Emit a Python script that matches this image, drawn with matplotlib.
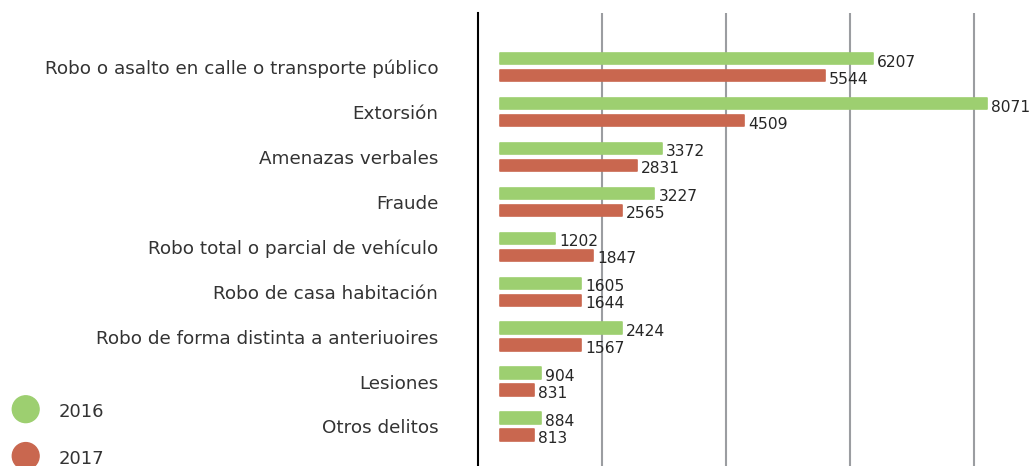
import matplotlib
matplotlib.use('Agg')
import matplotlib.pyplot as plt
from matplotlib.patches import Circle
import numpy as np

categorias = ['Robo o asalto en calle o transporte público', 'Extorsión',
              'Amenazas verbales', 'Fraude', 'Robo total o parcial de vehículo',
              'Robo de casa habitación', 'Robo de forma distinta a anteriuoires',
              'Lesiones', 'Otros delitos']
valores_2016 = [6207, 8071, 3372, 3227, 1202, 1605, 2424, 904, 884]
valores_2017 = [5544, 4509, 2831, 2565, 1847, 1644, 1567, 831, 813]
# largo con que esta dibujada cada barra en el original (no es proporcional a la etiqueta)
largo_2016 = [6183, 8071, 2688, 2559, 916, 1342, 2021, 674, 674]
largo_2017 = [5383, 4041, 2277, 2021, 1545, 1342, 1342, 568, 568]
anios = ['2016', '2017']
colores = ['#9dcf70', '#c9674f']

plt.rcParams['font.family'] = ['DejaVu Sans']
TAM_CAT = 13.2
TAM_VAL = 11.2

fig = plt.figure(figsize=(10.31, 4.66), dpi=100)
ax = fig.add_axes([478.3 / 1031, 0, 1 - 478.3 / 1031, (466 - 12.7) / 466])

y = np.arange(len(categorias))
sep = 8.5 / 44.9
alto = 0.25

for largos, valores, color, d in [(largo_2016, valores_2016, colores[0], -sep),
                                  (largo_2017, valores_2017, colores[1], sep)]:
    barras = ax.barh(y + d, largos, height=alto, color=color, edgecolor=color,
                     linewidth=1.2, joinstyle='round', zorder=3)
    for b, v in zip(barras, valores):
        ax.annotate(str(v), (b.get_width(), b.get_y() + b.get_height() / 2),
                    xytext=(2.8, -2.5), textcoords='offset points', va='center',
                    ha='left', fontsize=TAM_VAL, color='#262626')

# ejes
ax.set_xlim(-359.4, 8795)
ax.set_ylim(8.882, -1.214)
ax.set_yticks(y)
ax.set_yticklabels(categorias)
rejilla = 1694 + 2052 * np.arange(4)
ax.set_xticks(rejilla)
ax.tick_params(axis='y', length=0, pad=28.8, labelsize=TAM_CAT, labelcolor='#333333')
ax.tick_params(axis='x', length=0, labelbottom=False)
ax.grid(axis='x', color='#9b9da1', linewidth=1.5)
ax.set_axisbelow(True)
for lado in ['top', 'right', 'bottom']:
    ax.spines[lado].set_visible(False)
ax.spines['left'].set_color('black')
ax.spines['left'].set_linewidth(1.5)

# leyenda con circulos
for i, (anio, color) in enumerate(zip(anios, colores)):
    cy = (466 - (409.2 + 46.8 * i)) / 100
    fig.add_artist(Circle((0.257, cy), 0.134, transform=fig.dpi_scale_trans, color=color))
    fig.text(0.583, cy - 0.03, anio, transform=fig.dpi_scale_trans, va='center',
             fontsize=13, color='#333333')

fig.savefig('out.png', dpi=100)
